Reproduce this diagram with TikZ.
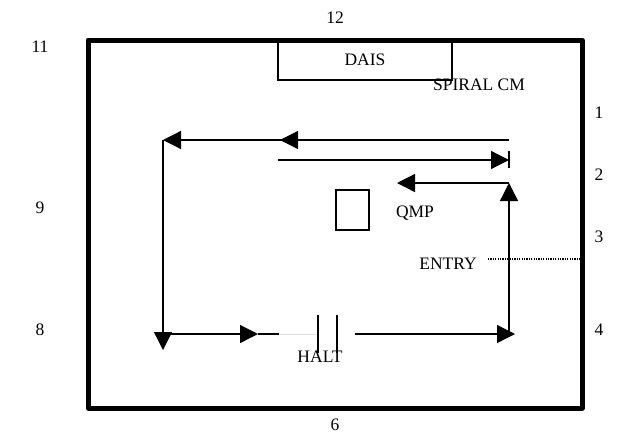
\documentclass[tikz,border=0pt]{standalone}
\usepackage{fontspec}
\setmainfont{Liberation Serif}
\usetikzlibrary{arrows.meta}
\begin{document}
\begin{tikzpicture}[x=1pt,y=-1pt,
  lbl/.style={font=\fontsize{17.5}{19}\selectfont, inner sep=0pt},
  ln/.style={line width=1.3pt},
  tip/.style={-{Triangle[length=18pt,width=18pt]}}]
\useasboundingbox (0,0) rectangle (636,445);
% outer wall
\draw[line width=5pt, line join=round] (88,40) rectangle (582,408);
% dais
\node (dais) [draw, line width=1.3pt, minimum width=174pt, minimum height=40pt, lbl] at (365,60) {DAIS};
% qmp box
\node (qmpbox) [draw, line width=1.3pt, minimum width=33pt, minimum height=40pt, inner sep=0pt] at (352.5,210) {};
% labels
\node (n12) [lbl] at (335,18) {12};
\node (n11) [lbl] at (40,47) {11};
\node (n1) [lbl] at (599,113) {1};
\node (n2) [lbl] at (599,175) {2};
\node (n9) [lbl] at (40,208) {9};
\node (n3) [lbl] at (599,237) {3};
\node (n8) [lbl] at (40,330) {8};
\node (n4) [lbl] at (599,330) {4};
\node (n6) [lbl] at (335,425) {6};
\node (spiral) [lbl] at (479,85) {SPIRAL CM};
\node (qmp) [lbl] at (415,213) {QMP};
\node (entry) [lbl] at (448,264) {ENTRY};
\node (halt) [lbl] at (320,357) {HALT};
% coordinates
\coordinate (tl) at (163,140);
\coordinate (tm) at (280,140);
\coordinate (tr) at (509,140);
\coordinate (sl) at (278,160);
\coordinate (sr) at (509,160);
\coordinate (sbt) at (509,151);
\coordinate (sbb) at (509,168);
\coordinate (ur) at (509,183);
\coordinate (ul) at (397,183);
\coordinate (br) at (509,335);
\coordinate (lb) at (163,350);
\coordinate (bl) at (163,334);
\coordinate (b1) at (258,334);
\coordinate (b2) at (279,334);
\coordinate (b3) at (318,334);
\coordinate (b4) at (355,334);
\coordinate (b5) at (515,334);
\coordinate (h1t) at (318,315);
\coordinate (h1b) at (318,353);
\coordinate (h2t) at (337,315);
\coordinate (h2b) at (337,353);
\coordinate (d1) at (488,259);
\coordinate (d2) at (580,259);
% spiral path
\draw[ln] (tr) -- (tm);
\draw[ln,tip] (tr) -- (tm);
\draw[ln,tip] (tm) -- (tl);
\draw[ln,tip] (sl) -- (sr);
\draw[ln] (sbt) -- (sbb);
\draw[ln,tip] (br) -- (ur);
\draw[ln,tip] (ur) -- (ul);
\draw[ln,tip] (tl) -- (lb);
\draw[ln,tip] (bl) -- (b1);
\draw[ln] (b1) -- (b2);
\draw[line width=1pt, black!12] (b2) -- (b3);
\draw[line width=1.5pt] (h1t) -- (h1b);
\draw[line width=1.5pt] (h2t) -- (h2b);
\draw[ln,tip] (b4) -- (b5);
\draw[line width=1.1pt, dash pattern=on 1.1pt off 1.3pt] (d1) -- (d2);
\end{tikzpicture}
\end{document}
